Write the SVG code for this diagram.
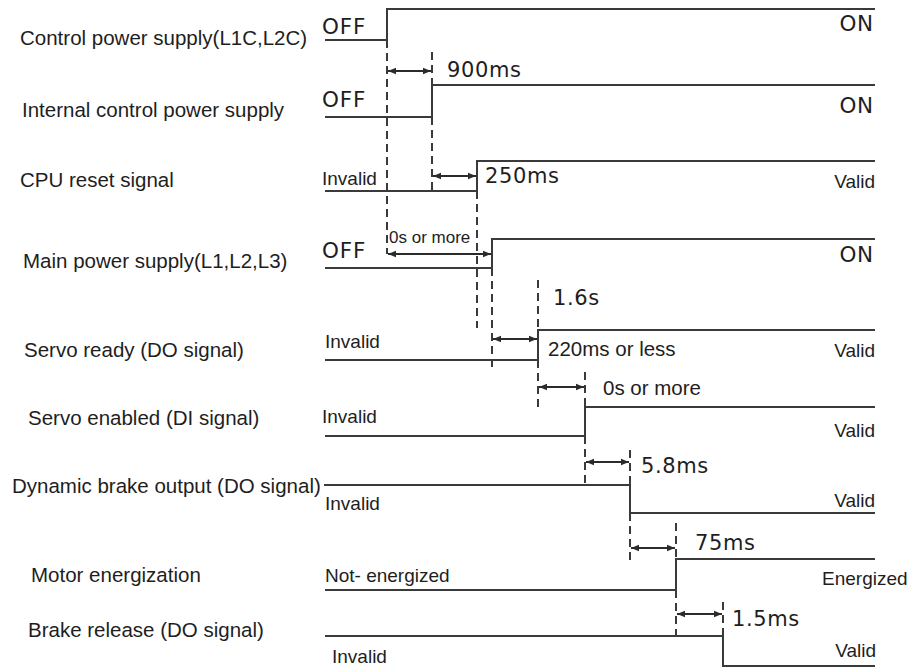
<svg xmlns="http://www.w3.org/2000/svg" width="916" height="668" viewBox="0 0 916 668">
<defs>
<marker id="ah" viewBox="0 0 10 10" refX="10" refY="5" markerWidth="10" markerHeight="8" markerUnits="userSpaceOnUse" orient="auto-start-reverse">
<path d="M0,1 L10,5 L0,9 z" fill="#2b2b2b"/>
</marker>
<style>
.w{fill:none;stroke:#3a3a3a;stroke-width:2}
.d{fill:none;stroke:#3a3a3a;stroke-width:2;stroke-dasharray:8 5}
.a{fill:none;stroke:#2b2b2b;stroke-width:2;marker-start:url(#ah);marker-end:url(#ah)}
.lb{font-family:"Liberation Sans",Arial,sans-serif;font-size:20.5px;fill:#1e1e1e}
.st{font-family:"Liberation Sans",Arial,sans-serif;font-size:19px;fill:#1e1e1e}
.big{font-family:"DejaVu Sans",sans-serif;font-size:21.5px;fill:#1e1e1e;letter-spacing:0.8px}
.t{font-family:"DejaVu Sans",sans-serif;font-size:21px;fill:#1e1e1e;letter-spacing:0.6px}
.r{text-anchor:end}
</style>
</defs>
<rect width="916" height="668" fill="#ffffff"/>

<g id="sig-control-power">
<text class="lb" x="20" y="45">Control power supply(L1C,L2C)</text>
<path class="w" d="M325,40 H387 V9 H875"/>
<text class="big" x="322" y="34">OFF</text>
<text class="big r" x="874" y="31">ON</text>
</g>

<g id="sig-internal-power">
<text class="lb" x="22" y="117">Internal control power supply</text>
<path class="w" d="M325,117 H432 V85 H875"/>
<text class="big" x="322" y="107">OFF</text>
<text class="big r" x="874" y="113">ON</text>
</g>

<g id="sig-cpu-reset">
<text class="lb" x="20" y="187">CPU reset signal</text>
<path class="w" d="M325,191 H477 V161 H875"/>
<text class="st" x="322" y="185">Invalid</text>
<text class="st r" x="875" y="188">Valid</text>
</g>

<g id="sig-main-power">
<text class="lb" x="23" y="268">Main power supply(L1,L2,L3)</text>
<path class="w" d="M325,268 H492 V239 H875"/>
<text class="big" x="322" y="258">OFF</text>
<text class="big r" x="874" y="262">ON</text>
</g>

<g id="sig-servo-ready">
<text class="lb" x="24" y="357">Servo ready (DO signal)</text>
<path class="w" d="M325,360 H538 V330 H875"/>
<text class="st" x="325" y="348">Invalid</text>
<text class="st r" x="875" y="357">Valid</text>
</g>

<g id="sig-servo-enabled">
<text class="lb" x="28" y="425">Servo enabled (DI signal)</text>
<path class="w" d="M325,436 H585 V407 H875"/>
<text class="st" x="322" y="423">Invalid</text>
<text class="st r" x="875" y="437">Valid</text>
</g>

<g id="sig-dynamic-brake">
<text class="lb" x="12" y="493">Dynamic brake output (DO signal)</text>
<path class="w" d="M324,485 H630 V513 H875"/>
<text class="st" x="325" y="510">Invalid</text>
<text class="st r" x="875" y="507">Valid</text>
</g>

<g id="sig-motor-energization">
<text class="lb" x="31" y="582">Motor energization</text>
<path class="w" d="M325,590 H676 V559 H875"/>
<text class="st" x="325" y="582">Not- energized</text>
<text class="st" x="822" y="585">Energized</text>
</g>

<g id="sig-brake-release">
<text class="lb" x="28" y="637">Brake release (DO signal)</text>
<path class="w" d="M325,636 H723 V666 H875"/>
<text class="st" x="332" y="663">Invalid</text>
<text class="st r" x="876" y="657">Valid</text>
</g>

<g id="connectors">
<path class="d" d="M387,40 V254"/>
<path class="d" d="M432,52 V192"/>
<path class="d" d="M477,191 V328"/>
<path class="d" d="M492,268 V368"/>
<path class="d" d="M538,280 V330 M538,360 V410"/>
<path class="d" d="M585,372 V407 M585,436 V486"/>
<path class="d" d="M630,450 V485 M630,513 V563"/>
<path class="d" d="M676,523 V559 M676,590 V636"/>
<path class="d" d="M723,602 V636"/>

<path class="a" d="M388,71 H431"/>
<path class="a" d="M433,176 H476"/>
<path class="a" d="M388,254 H491"/>
<path class="a" d="M493,339 H537"/>
<path class="a" d="M539,387 H584"/>
<path class="a" d="M586,462 H629"/>
<path class="a" d="M631,548 H675"/>
<path class="a" d="M677,614 H722"/>

<text class="t" x="447" y="77">900ms</text>
<text class="t" x="485" y="183">250ms</text>
<text class="st" x="389" y="243" style="font-size:17px">0s or more</text>
<text class="t" x="553" y="305">1.6s</text>
<text class="lb" x="548" y="356">220ms or less</text>
<text class="lb" x="603" y="395">0s or more</text>
<text class="t" x="641" y="473">5.8ms</text>
<text class="t" x="695" y="550">75ms</text>
<text class="t" x="732" y="626">1.5ms</text>
</g>
</svg>
